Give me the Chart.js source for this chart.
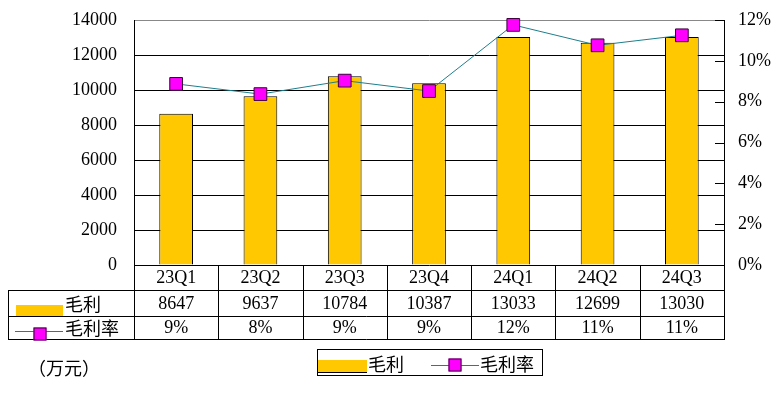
<!DOCTYPE html>
<html>
<head>
<meta charset="utf-8">
<script src="https://cdn.jsdelivr.net/npm/chart.js@4.4.1/dist/chart.umd.min.js"></script>
<style>
  html, body { margin: 0; padding: 0; background: #fff; }
  #wrap { width: 779px; height: 395px; }
</style>
</head>
<body>
<div id="wrap"><canvas id="myChart" width="779" height="395"></canvas></div>
<script>
// data
var quarters = ['23Q1', '23Q2', '23Q3', '23Q4', '24Q1', '24Q2', '24Q3'];
var grossProfit = [8647, 9637, 10784, 10387, 13033, 12699, 13030];
var grossMargin = [8.87, 8.37, 9.03, 8.52, 11.76, 10.76, 11.25];
var marginLabels = ['9%', '8%', '9%', '9%', '12%', '11%', '11%'];
var leftTicks = [0, 2000, 4000, 6000, 8000, 10000, 12000, 14000];
var rightTicks = [0, 2, 4, 6, 8, 10, 12];

var barColor = '#FFC800';
var lineColor = '#1E7E8C';
var markColor = '#FF00FF';
var numFont = "18px 'Liberation Serif', 'Noto Sans CJK SC', serif";
var cjkFont = "18px 'Noto Sans CJK SC', sans-serif";

function drawMarker(c, x, y, s) {
    c.fillStyle = markColor;
    c.strokeStyle = '#3a003a';
    c.lineWidth = 1;
    c.fillRect(x - s / 2, y - s / 2, s, s);
    c.strokeRect(x - s / 2 + 0.5, y - s / 2 + 0.5, s - 1, s - 1);
}

function drawSwatch(c, x, y, w, h) {
    c.fillStyle = barColor;
    c.fillRect(x, y, w, h);
    c.strokeStyle = '#000';
    c.lineWidth = 1;
    c.beginPath();
    c.moveTo(x, y + h + 0.5);
    c.lineTo(x + w, y + h + 0.5);
    c.stroke();
}

// data table under the plot + legend + unit label
var tablePlugin = {
    id: 'tablePlugin',
    afterDraw: function (chart) {
        var c = chart.ctx;
        var area = chart.chartArea;
        var xs = chart.scales.x;
        var colW = (area.right - area.left) / quarters.length;
        var r0 = area.bottom, r1 = 290, r2 = 316, r3 = 339;
        var tableLeft = 8;

        c.save();
        c.strokeStyle = '#000';
        c.lineWidth = 1;
        c.beginPath();
        [r1, r2, r3].forEach(function (y) {
            c.moveTo(tableLeft, y + 0.5);
            c.lineTo(Math.round(area.right) + 0.5, y + 0.5);
        });
        c.moveTo(tableLeft + 0.5, r1);
        c.lineTo(tableLeft + 0.5, r3 + 1);
        for (var i = 0; i <= quarters.length; i++) {
            var x = Math.round(area.left + i * colW) + 0.5;
            c.moveTo(x, r0);
            c.lineTo(x, r3 + 1);
        }
        c.stroke();

        // right axis small inward ticks
        var ys = chart.scales.y1;
        c.beginPath();
        rightTicks.forEach(function (v) {
            var y = Math.round(ys.getPixelForValue(v)) + 0.5;
            c.moveTo(area.right - 9, y);
            c.lineTo(area.right, y);
        });
        c.stroke();

        c.fillStyle = '#000';
        c.textAlign = 'center';
        c.textBaseline = 'middle';
        c.font = numFont;
        quarters.forEach(function (q, i) {
            var cx = xs.getPixelForValue(i);
            c.fillText(q, cx, (r0 + r1) / 2 + 1);
            c.fillText(String(grossProfit[i]), cx, (r1 + r2) / 2 + 1);
            c.fillText(marginLabels[i], cx, (r2 + r3) / 2 + 1);
        });

        // row headers
        drawSwatch(c, 16, 305, 47, 11);
        c.strokeStyle = lineColor;
        c.beginPath();
        c.moveTo(15, 331.5);
        c.lineTo(63, 331.5);
        c.stroke();
        drawMarker(c, 40, 334, 13);
        c.fillStyle = '#000';
        c.textAlign = 'left';
        c.font = cjkFont;
        c.fillText('毛利', 65, (r1 + r2) / 2 + 1);
        c.fillText('毛利率', 65, (r2 + r3) / 2 + 1);

        // legend
        c.strokeStyle = '#000';
        c.strokeRect(317.5, 349.5, 225, 26);
        drawSwatch(c, 318, 360, 49, 12);
        c.strokeStyle = lineColor;
        c.beginPath();
        c.moveTo(431, 365.5);
        c.lineTo(479, 365.5);
        c.stroke();
        drawMarker(c, 455, 365, 13);
        c.fillStyle = '#000';
        c.fillText('毛利', 368, 364);
        c.fillText('毛利率', 480, 364);

        // unit
        c.fillText('（万元）', 28, 368);
        c.restore();
    }
};

var ctx = document.getElementById('myChart').getContext('2d');
var myChart = new Chart(ctx, {
    data: {
        labels: quarters,
        datasets: [{
            type: 'line',
            label: '毛利率',
            data: grossMargin,
            yAxisID: 'y1',
            borderColor: lineColor,
            borderWidth: 1,
            tension: 0,
            pointStyle: 'rect',
            pointRadius: 9,
            pointBackgroundColor: markColor,
            pointBorderColor: '#3a003a',
            pointBorderWidth: 1,
            clip: false,
            order: 0
        }, {
            type: 'bar',
            label: '毛利',
            data: grossProfit,
            yAxisID: 'y',
            backgroundColor: barColor,
            borderColor: '#000',
            borderWidth: 1,
            categoryPercentage: 1,
            barPercentage: 0.4,
            order: 1
        }]
    },
    options: {
        responsive: false,
        animation: false,
        layout: { autoPadding: false, padding: { top: 20, bottom: 130, left: 0, right: 0 } },
        plugins: {
            legend: { display: false },
            tooltip: { enabled: false }
        },
        scales: {
            x: { display: false },
            y: {
                position: 'left',
                min: 0,
                max: 14000,
                afterFit: function (scale) { scale.width = 134; },
                afterBuildTicks: function (scale) {
                    scale.ticks = leftTicks.map(function (v) { return { value: v }; });
                },
                grid: {
                    color: function (c) { return c.tick && c.tick.value === 14000 ? '#888' : '#000'; },
                    drawTicks: true,
                    tickLength: 17,
                    tickColor: 'rgba(0,0,0,0)'
                },
                border: { color: '#000' },
                ticks: {
                    color: '#000',
                    padding: 0,
                    font: { family: "'Liberation Serif', serif", size: 18 },
                    callback: function (v) { return String(v); }
                }
            },
            y1: {
                position: 'right',
                min: 0,
                max: 12,
                afterFit: function (scale) { scale.width = 55; },
                afterBuildTicks: function (scale) {
                    scale.ticks = rightTicks.map(function (v) { return { value: v }; });
                },
                grid: {
                    drawOnChartArea: false,
                    drawTicks: true,
                    tickLength: 14,
                    tickColor: 'rgba(0,0,0,0)'
                },
                border: { color: '#000' },
                ticks: {
                    color: '#000',
                    padding: 0,
                    font: { family: "'Liberation Serif', serif", size: 18 },
                    callback: function (v) { return v + '%'; }
                }
            }
        }
    },
    plugins: [tablePlugin]
});
</script>
</body>
</html>
